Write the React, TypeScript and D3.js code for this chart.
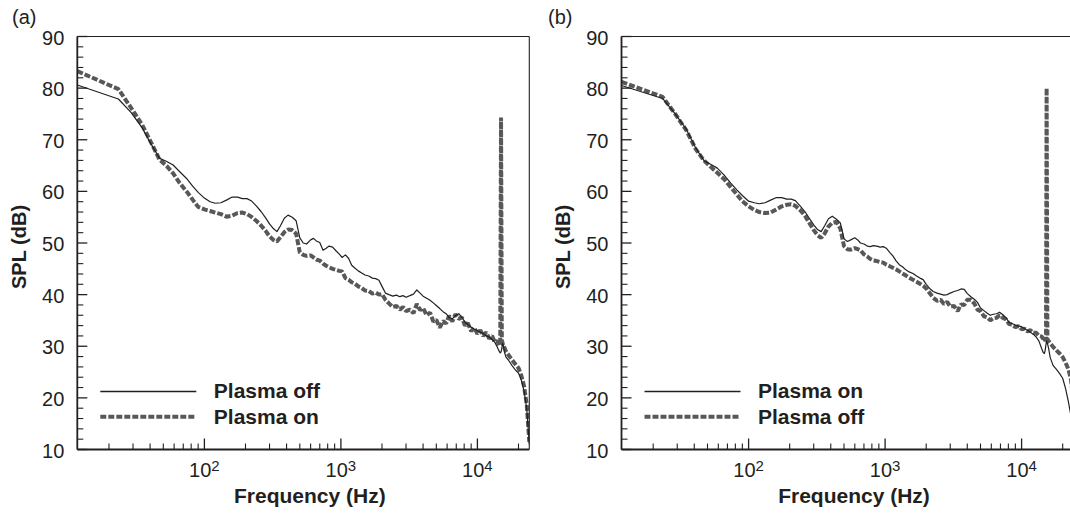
import React from 'react';
import * as d3 from 'd3';

// ---------- data ----------
const freqs = [
  11.72, 23.44, 29, 35, 41, 47, 53, 59, 66, 74,
  82, 90, 100, 110, 120, 132, 145, 160, 175, 190,
  205, 220, 240, 260, 280, 300, 320, 340, 360, 385,
  410, 440, 470, 500, 530, 560, 600, 630, 660, 700,
  740, 780, 820, 870, 920, 970, 1020, 1080, 1140, 1200,
  1270, 1340, 1420, 1500, 1600, 1700, 1800, 1900, 2000, 2120,
  2250, 2400, 2550, 2700, 2850, 3000, 3200, 3400, 3600, 3800,
  4000, 4250, 4500, 4750, 5000, 5300, 5600, 5900, 6200, 6550,
  6900, 7300, 7700, 8100, 8500, 9000, 9500, 10000, 10500, 11000,
  11600, 12200, 12800, 13400, 14000, 14400, 14700, 14900, 15100, 15250,
  15450, 15800, 16200, 17000, 18000, 19000, 20000, 21000, 22000, 23000,
  24000,
];

// Panel (a): solid = Plasma off, dashed = Plasma on
const panelASolid = [
  80.6, 77.9, 75.3, 72.3, 69.0, 66.4, 65.8, 65.1, 63.8, 62.5,
  61.0, 59.8, 58.7, 58.0, 57.7, 57.8, 58.3, 58.9, 58.9, 58.6,
  58.6, 58.2, 57.2, 56.1, 54.9, 53.7, 52.8, 52.2, 53.3, 54.8,
  55.4, 55.0, 54.3, 51.0, 50.0, 49.8, 50.6, 50.9, 50.4, 50.1,
  48.6, 49.0, 49.4, 49.2, 48.5, 47.9, 47.2, 47.7, 47.0, 45.7,
  45.1, 44.6, 44.2, 43.8, 43.6, 43.2, 43.1, 42.8, 41.6, 40.3,
  40.0, 39.7, 39.9, 39.6, 39.8, 39.5, 39.8, 40.1, 40.9, 40.3,
  39.7, 39.3, 38.9, 38.4, 37.9, 37.3, 36.7, 36.3, 35.6, 35.3,
  35.9, 36.3, 35.6, 34.7, 34.2, 33.7, 33.3, 33.0, 32.7, 32.5,
  32.0, 31.8, 31.3, 30.8, 29.8, 29.1, 28.7, 28.9, 29.6, 30.5,
  30.3, 28.8, 27.9, 27.2, 26.2, 25.4, 24.8, 23.4, 21.3, 17.8,
  11.0,
];
const panelADashed = [
  83.3, 79.8, 76.2, 72.9, 69.3, 66.1, 64.9, 63.5, 61.6, 60.0,
  58.4, 57.0, 56.5, 56.2, 55.9, 55.6, 55.1, 55.3, 55.8, 55.9,
  55.6, 55.1, 54.3, 53.4, 52.4, 51.3, 50.6, 50.3, 51.1, 52.1,
  52.6, 52.5, 51.8, 48.2, 47.7, 47.5, 47.6, 47.2, 46.8, 46.6,
  46.0, 45.6, 45.3, 45.0, 44.8, 44.6, 44.5, 43.2, 42.9, 42.4,
  42.1, 41.6, 41.3, 40.8, 40.7, 40.2, 40.4, 40.0, 40.1, 39.0,
  38.3, 37.6, 37.8, 37.1, 37.6, 36.8, 37.1, 36.4, 38.2, 37.0,
  37.4, 36.0, 36.5, 34.8, 35.1, 33.6, 34.9, 34.4, 35.9, 34.8,
  36.2, 35.3, 35.6, 34.0, 34.5, 32.9, 33.6, 32.4, 33.1, 32.0,
  32.7, 31.5, 32.0, 30.8, 31.0, 30.2, 30.4, 74.3, 31.0, 30.8,
  30.0, 29.7, 29.0, 28.2, 27.3, 26.5, 25.8, 24.3, 22.2, 18.6,
  11.5,
];

// Panel (b): solid = Plasma on, dashed = Plasma off
const panelBSolid = [
  80.5, 78.0, 75.0, 72.0, 68.4, 66.0, 65.2, 64.5, 63.2, 61.6,
  60.3, 59.2, 58.1, 57.8, 57.6, 57.8, 58.3, 58.8, 58.8, 58.5,
  58.5, 58.2, 57.1, 56.0, 54.7, 53.5, 52.6, 52.2, 53.3, 54.7,
  55.2, 54.6, 53.9, 50.8, 50.3, 50.6, 51.0, 50.6, 50.0, 49.8,
  49.4, 49.3, 49.5, 49.4, 49.2, 49.3, 49.0, 48.2, 47.5, 46.6,
  45.8, 45.4, 44.8, 44.4, 44.1, 43.6, 43.2, 42.9, 42.0, 41.2,
  40.6, 40.3, 40.1, 39.9, 40.0, 40.3, 40.6, 40.8, 41.1, 41.0,
  40.2, 39.6, 39.1, 38.5, 37.4, 36.9, 36.4, 36.0, 36.2, 36.3,
  36.6, 36.1, 35.5, 34.6, 34.4, 34.1, 33.9, 33.8, 33.4, 33.1,
  32.7, 32.3, 31.8, 31.0, 29.6, 28.8, 28.6, 29.3, 30.4, 31.0,
  30.6, 29.5, 27.8, 26.3, 25.5, 24.7, 23.8, 21.8, 19.3, 16.5,
  12.0,
];
const panelBDashed = [
  81.2, 78.3, 75.0, 71.8, 68.2, 66.0, 64.7, 63.6, 62.4, 60.8,
  59.4, 58.1, 57.1, 56.4, 56.0, 55.8, 55.9, 56.5, 57.1, 57.4,
  57.5, 57.2, 56.3, 55.2, 53.8, 52.5, 51.5, 51.0, 51.8, 53.2,
  53.9, 54.1, 52.8, 49.4, 48.8, 48.7, 49.0, 48.8, 48.6, 47.8,
  47.4, 46.9, 46.6, 46.5, 46.3, 46.2, 45.8, 45.5, 45.2, 44.9,
  44.5, 44.1, 43.7, 43.3, 42.9, 42.5, 42.1, 41.7, 41.2, 40.3,
  39.4, 38.8, 39.0, 38.2, 38.6, 37.7, 37.8, 36.8, 38.1, 38.0,
  39.0, 39.0, 38.3, 37.1, 36.8, 35.8, 35.6, 35.0, 35.4, 35.5,
  36.0, 35.5, 35.2, 34.3, 34.2, 33.7, 33.9, 33.3, 33.4, 32.9,
  33.1, 32.6, 32.6, 32.0, 31.9, 31.4, 31.6, 31.0, 31.3, 80.0,
  31.3, 31.0, 30.6, 29.9, 29.2, 28.6, 27.9, 26.8, 25.6, 23.6,
  19.0,
];

const yTickValues = [10, 20, 30, 40, 50, 60, 70, 80, 90];
const xMajorExponents = [2, 3, 4];
const legendA = ['Plasma off', 'Plasma on'];
const legendB = ['Plasma on', 'Plasma off'];
const panelLetters = ['(a)', '(b)'];
const xTitle = 'Frequency (Hz)';
const yTitle = 'SPL (dB)';

const X_DOMAIN: [number, number] = [11.72, 24000];
const Y_DOMAIN: [number, number] = [10, 90];

// ---------- styling ----------
const FONT = '"Liberation Sans", Arial, Helvetica, sans-serif';
const INK = '#231f20';
const GRAY = '#58585a';
const DASH = '6 2';

const W = 452;
const H = 413;
const TOP = 36.5;

type PanelProps = {
  id: string;
  left: number;
  letterX: number;
  letter: string;
  solid: number[];
  dashed: number[];
  legend: string[];
};

function Panel({ id, left, letterX, letter, solid, dashed, legend }: PanelProps) {
  const x = d3.scaleLog().domain(X_DOMAIN).range([0, W]);
  const y = d3.scaleLinear().domain(Y_DOMAIN).range([H, 0]);
  const line = d3
    .line<number>()
    .x((_, i) => x(freqs[i]))
    .y((d) => y(d));

  const minorX: number[] = [];
  for (let e = 1; e <= 4; e++) {
    for (let k = 2; k <= 9; k++) {
      const f = k * Math.pow(10, e);
      if (f > X_DOMAIN[0] && f < X_DOMAIN[1]) minorX.push(f);
    }
  }
  const majorX = xMajorExponents.map((e) => Math.pow(10, e));
  const minorY = d3.range(12, 90, 2).filter((v) => v % 10 !== 0);

  return (
    <g>
      <text x={letterX} y={24} fontFamily={FONT} fontSize={20} fill={INK}>
        {letter}
      </text>
      <g transform={`translate(${left},${TOP})`}>
        <defs>
          <clipPath id={`clip-${id}`}>
            <rect x={0} y={0} width={W} height={H} />
          </clipPath>
        </defs>
        <g clipPath={`url(#clip-${id})`}>
          <path
            d={line(dashed) || ''}
            fill="none"
            stroke={GRAY}
            strokeWidth={4}
            strokeDasharray={DASH}
            strokeLinejoin="bevel"
          />
          <path d={line(solid) || ''} fill="none" stroke={INK} strokeWidth={1.2} strokeLinejoin="round" />
        </g>

        {/* frame */}
        <line x1={0} y1={0} x2={W} y2={0} stroke={INK} strokeWidth={1.1} />
        <line x1={W} y1={0} x2={W} y2={H} stroke={INK} strokeWidth={1.1} />
        <line x1={0} y1={0} x2={0} y2={H} stroke={INK} strokeWidth={1.8} />
        <line x1={0} y1={H} x2={W} y2={H} stroke={INK} strokeWidth={1.8} />

        {/* y ticks */}
        {yTickValues.map((v) => (
          <line key={`ym${v}`} x1={0} x2={10} y1={y(v)} y2={y(v)} stroke={INK} strokeWidth={1.3} />
        ))}
        {minorY.map((v) => (
          <line key={`yn${v}`} x1={0} x2={6} y1={y(v)} y2={y(v)} stroke={INK} strokeWidth={1.1} />
        ))}
        {yTickValues.map((v) => (
          <text
            key={`yl${v}`}
            x={-13}
            y={y(v) + 1}
            textAnchor="end"
            dominantBaseline="central"
            fontFamily={FONT}
            fontSize={20}
            fill={INK}
          >
            {v}
          </text>
        ))}

        {/* x ticks */}
        {majorX.map((f) => (
          <line key={`xm${f}`} x1={x(f)} x2={x(f)} y1={H} y2={H - 11} stroke={INK} strokeWidth={1.3} />
        ))}
        {minorX.map((f) => (
          <line key={`xn${f}`} x1={x(f)} x2={x(f)} y1={H} y2={H - 6} stroke={INK} strokeWidth={1.1} />
        ))}
        {xMajorExponents.map((e) => (
          <text
            key={`xl${e}`}
            x={x(Math.pow(10, e))}
            y={H + 27}
            textAnchor="middle"
            fontFamily={FONT}
            fontSize={20}
            fill={INK}
          >
            10
            <tspan fontSize={15} dy={-6}>
              {e}
            </tspan>
          </text>
        ))}

        {/* axis titles */}
        <text
          x={232.5}
          y={H + 53.5}
          textAnchor="middle"
          fontFamily={FONT}
          fontSize={21}
          fontWeight="bold"
          fill={INK}
        >
          {xTitle}
        </text>
        <text
          transform={`translate(-51.5,${247 - TOP}) rotate(-90)`}
          textAnchor="middle"
          fontFamily={FONT}
          fontSize={20}
          fontWeight="bold"
          fill={INK}
        >
          {yTitle}
        </text>

        {/* legend */}
        <line x1={23} x2={119} y1={355} y2={355} stroke={INK} strokeWidth={1.3} />
        <line x1={23} x2={119} y1={380.3} y2={380.3} stroke={GRAY} strokeWidth={4} strokeDasharray={DASH} />
        <text x={136.5} y={361.5} fontFamily={FONT} fontSize={21} fontWeight="bold" fill={INK}>
          {legend[0]}
        </text>
        <text x={136.5} y={387.5} fontFamily={FONT} fontSize={21} fontWeight="bold" fill={INK}>
          {legend[1]}
        </text>
      </g>
    </g>
  );
}

export default function App() {
  return (
    <svg
      width={1070}
      height={514}
      style={{ position: 'absolute', left: 0, top: 0, background: '#fff' }}
    >
      <rect x={0} y={0} width={1070} height={514} fill="#fff" />
      <Panel
        id="a"
        left={77.3}
        letterX={12}
        letter={panelLetters[0]}
        solid={panelASolid}
        dashed={panelADashed}
        legend={legendA}
      />
      <Panel
        id="b"
        left={621.5}
        letterX={548}
        letter={panelLetters[1]}
        solid={panelBSolid}
        dashed={panelBDashed}
        legend={legendB}
      />
    </svg>
  );
}
